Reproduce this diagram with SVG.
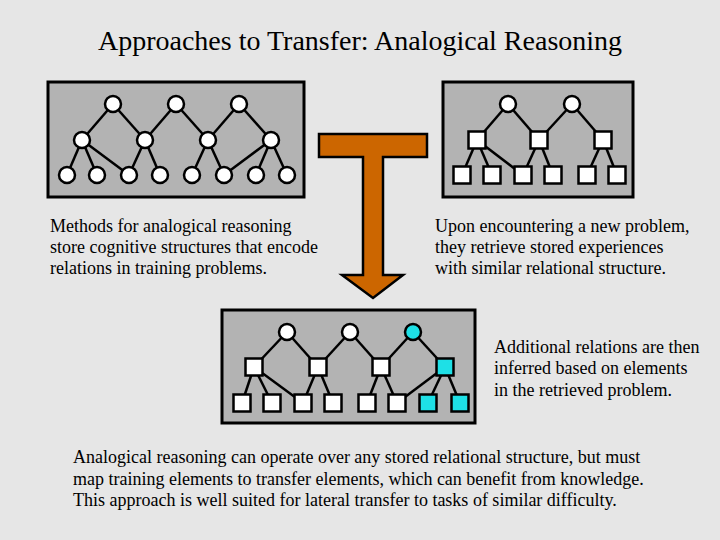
<svg xmlns="http://www.w3.org/2000/svg" width="720" height="540" viewBox="0 0 720 540">
<style>
.bg{fill:#E6E6E6}
.panel{fill:#B3B3B3;stroke:#000;stroke-width:3}
.e line{stroke:#000;stroke-width:2.5}
.c{fill:#fff;stroke:#000;stroke-width:2.5}
.s{fill:#fff;stroke:#000;stroke-width:2.5}
.cy{fill:#1EE0E6}
.t{font-family:"Liberation Serif","Times New Roman",serif;font-size:18px;fill:#000}
.title{font-family:"Liberation Serif","Times New Roman",serif;font-size:28px;fill:#000}
</style>
<rect class="bg" x="0" y="0" width="720" height="540"/>
<text class="title" x="360" y="50" text-anchor="middle">Approaches to Transfer: Analogical Reasoning</text>

<g id="panel1">
<rect class="panel" x="48" y="82" width="256" height="115"/>
<g class="e">
<line x1="113" y1="104" x2="82" y2="140"/><line x1="113" y1="104" x2="145" y2="140"/>
<line x1="176" y1="104" x2="145" y2="140"/><line x1="176" y1="104" x2="208" y2="140"/>
<line x1="239" y1="104" x2="208" y2="140"/><line x1="239" y1="104" x2="271" y2="140"/>
<line x1="82" y1="140" x2="67" y2="175"/><line x1="82" y1="140" x2="97" y2="175"/><line x1="82" y1="140" x2="129" y2="175"/>
<line x1="145" y1="140" x2="129" y2="175"/><line x1="145" y1="140" x2="160" y2="175"/>
<line x1="208" y1="140" x2="192" y2="175"/><line x1="208" y1="140" x2="224" y2="175"/>
<line x1="271" y1="140" x2="224" y2="175"/><line x1="271" y1="140" x2="256" y2="175"/><line x1="271" y1="140" x2="287" y2="175"/>
</g>
<circle class="c" cx="113" cy="104" r="8"/><circle class="c" cx="176" cy="104" r="8"/><circle class="c" cx="239" cy="104" r="8"/>
<circle class="c" cx="82" cy="140" r="8"/><circle class="c" cx="145" cy="140" r="8"/><circle class="c" cx="208" cy="140" r="8"/><circle class="c" cx="271" cy="140" r="8"/>
<circle class="c" cx="67" cy="175" r="8"/><circle class="c" cx="97" cy="175" r="8"/><circle class="c" cx="129" cy="175" r="8"/><circle class="c" cx="160" cy="175" r="8"/>
<circle class="c" cx="192" cy="175" r="8"/><circle class="c" cx="224" cy="175" r="8"/><circle class="c" cx="256" cy="175" r="8"/><circle class="c" cx="287" cy="175" r="8"/>
</g>

<g id="panel2">
<rect class="panel" x="443" y="82" width="190" height="115"/>
<g class="e">
<line x1="508" y1="104" x2="477" y2="140"/><line x1="508" y1="104" x2="539" y2="140"/>
<line x1="572" y1="104" x2="539" y2="140"/><line x1="572" y1="104" x2="603" y2="140"/>
<line x1="477" y1="140" x2="462" y2="175"/><line x1="477" y1="140" x2="492" y2="175"/><line x1="477" y1="140" x2="523" y2="175"/>
<line x1="539" y1="140" x2="523" y2="175"/><line x1="539" y1="140" x2="553" y2="175"/>
<line x1="603" y1="140" x2="587" y2="175"/><line x1="603" y1="140" x2="617" y2="175"/>
</g>
<circle class="c" cx="508" cy="104" r="8"/><circle class="c" cx="572" cy="104" r="8"/>
<rect class="s" x="468.5" y="131.5" width="17" height="17"/><rect class="s" x="530.5" y="131.5" width="17" height="17"/><rect class="s" x="594.5" y="131.5" width="17" height="17"/>
<rect class="s" x="453.5" y="166.5" width="17" height="17"/><rect class="s" x="483.5" y="166.5" width="17" height="17"/><rect class="s" x="514.5" y="166.5" width="17" height="17"/>
<rect class="s" x="544.5" y="166.5" width="17" height="17"/><rect class="s" x="578.5" y="166.5" width="17" height="17"/><rect class="s" x="608.5" y="166.5" width="17" height="17"/>
</g>

<g id="arrow">
<path d="M319,134 H427 V157 H383 V275 H403 L373,298 L342,275 H363 V157 H319 Z" fill="#CC6600" stroke="#000" stroke-width="2.5" stroke-linejoin="miter"/>
</g>

<g id="panel3">
<rect class="panel" x="222" y="310" width="253" height="113"/>
<g class="e">
<line x1="287" y1="332" x2="254" y2="367"/><line x1="287" y1="332" x2="318" y2="367"/>
<line x1="350" y1="332" x2="318" y2="367"/><line x1="350" y1="332" x2="381" y2="367"/>
<line x1="413" y1="332" x2="381" y2="367"/><line x1="413" y1="332" x2="445" y2="367"/>
<line x1="254" y1="367" x2="242" y2="403"/><line x1="254" y1="367" x2="272" y2="403"/><line x1="254" y1="367" x2="303" y2="403"/>
<line x1="318" y1="367" x2="303" y2="403"/><line x1="318" y1="367" x2="333" y2="403"/>
<line x1="381" y1="367" x2="367" y2="403"/><line x1="381" y1="367" x2="397" y2="403"/>
<line x1="445" y1="367" x2="397" y2="403"/><line x1="445" y1="367" x2="428" y2="403"/><line x1="445" y1="367" x2="460" y2="403"/>
</g>
<circle class="c" cx="287" cy="332" r="8"/><circle class="c" cx="350" cy="332" r="8"/><circle class="c cy" cx="413" cy="332" r="8"/>
<rect class="s" x="245.5" y="358.5" width="17" height="17"/><rect class="s" x="309.5" y="358.5" width="17" height="17"/><rect class="s" x="372.5" y="358.5" width="17" height="17"/><rect class="s cy" x="436.5" y="358.5" width="17" height="17"/>
<rect class="s" x="233.5" y="394.5" width="17" height="17"/><rect class="s" x="263.5" y="394.5" width="17" height="17"/><rect class="s" x="294.5" y="394.5" width="17" height="17"/><rect class="s" x="324.5" y="394.5" width="17" height="17"/>
<rect class="s" x="358.5" y="394.5" width="17" height="17"/><rect class="s" x="388.5" y="394.5" width="17" height="17"/><rect class="s cy" x="419.5" y="394.5" width="17" height="17"/><rect class="s cy" x="451.5" y="394.5" width="17" height="17"/>
</g>

<g id="text1">
<text class="t" x="50" y="232">Methods for analogical reasoning</text>
<text class="t" x="50" y="253">store cognitive structures that encode</text>
<text class="t" x="50" y="274">relations in training problems.</text>
</g>
<g id="text2">
<text class="t" x="435" y="232">Upon encountering a new problem,</text>
<text class="t" x="435" y="253">they retrieve stored experiences</text>
<text class="t" x="435" y="274">with similar relational structure.</text>
</g>
<g id="text3">
<text class="t" x="494" y="353">Additional relations are then</text>
<text class="t" x="494" y="374">inferred based on elements</text>
<text class="t" x="494" y="396">in the retrieved problem.</text>
</g>
<g id="text4">
<text class="t" x="73" y="463">Analogical reasoning can operate over any stored relational structure, but must</text>
<text class="t" x="73" y="485">map training elements to transfer elements, which can benefit from knowledge.</text>
<text class="t" x="73" y="506">This approach is well suited for lateral transfer to tasks of similar difficulty.</text>
</g>
</svg>
